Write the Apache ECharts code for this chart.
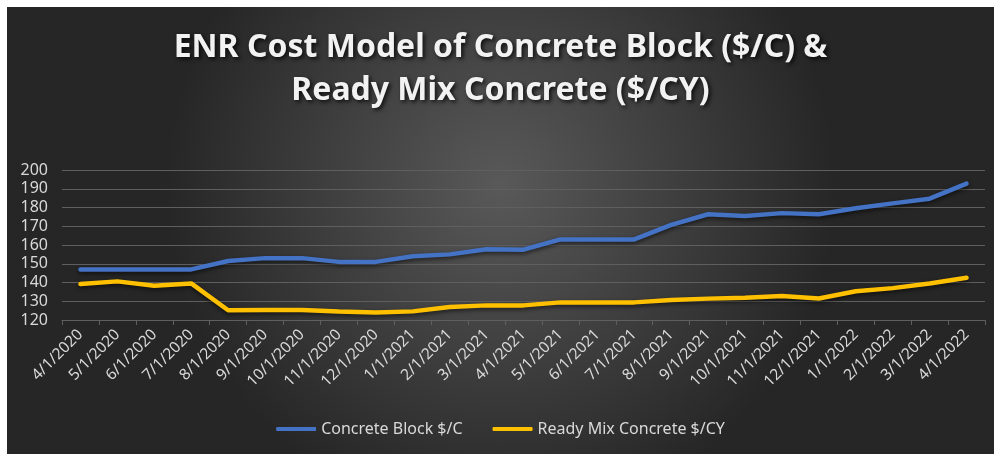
<!DOCTYPE html>
<html>
<head>
	<meta charset="utf-8">
	<title>ENR Cost Model</title>
	<script type="text/javascript" src="https://cdn.jsdelivr.net/npm/echarts@6/dist/echarts.min.js"></script>
	<style>
		body { margin: 0; background: #fff; }
		#main { position: absolute; left: 7px; top: 7px; width: 987px; height: 447px; }
	</style>
</head>
<body>
	<div id="main"></div>
	<script type="text/javascript">
	// 月份
	const months = ['4/1/2020','5/1/2020','6/1/2020','7/1/2020','8/1/2020','9/1/2020','10/1/2020',
		'11/1/2020','12/1/2020','1/1/2021','2/1/2021','3/1/2021','4/1/2021','5/1/2021','6/1/2021',
		'7/1/2021','8/1/2021','9/1/2021','10/1/2021','11/1/2021','12/1/2021','1/1/2022','2/1/2022',
		'3/1/2022','4/1/2022'];
	// Concrete Block $/C
	const blockValues = [147, 147, 147, 147, 151.5, 153, 153, 151, 151, 154, 155, 157.7, 157.5,
		163, 163, 163, 170.7, 176.4, 175.5, 177, 176.4, 179.6, 182.2, 184.7, 192.7];
	// Ready Mix Concrete $/CY
	const readyMixValues = [139.2, 140.6, 138.3, 139.5, 125.2, 125.3, 125.3, 124.5, 124, 124.6, 126.9,
		127.8, 127.8, 129.4, 129.4, 129.4, 130.7, 131.4, 131.9, 132.8, 131.5, 135.3, 137, 139.5, 142.5];

	const chart = echarts.init(document.getElementById('main'));
	const textColor = '#d9d9d9';
	const font = 'Noto Sans';

	const option = {
		backgroundColor: {
			type: 'radial', x: 0.5, y: 0.4, r: 0.75,
			colorStops: [
				{offset: 0, color: '#595959'},
				{offset: 1, color: '#262626'}
			]
		},
		title: {
			text: 'ENR Cost Model of Concrete Block ($/C) &\nReady Mix Concrete ($/CY)',
			left: 'center',
			top: 14,
			textStyle: {
				color: '#f2f2f2',
				fontFamily: font,
				fontWeight: 'bold',
				fontSize: 32,
				lineHeight: 43,
				textShadowColor: 'rgba(0,0,0,0.8)',
				textShadowBlur: 4,
				textShadowOffsetX: 2,
				textShadowOffsetY: 2
			}
		},
		legend: {
			bottom: 12,
			left: 'center',
			itemWidth: 40,
			itemHeight: 4,
			itemGap: 30,
			icon: 'roundRect',
			textStyle: { color: textColor, fontFamily: font, fontSize: 16 },
			data: ['Concrete Block $/C', 'Ready Mix Concrete $/CY']
		},
		grid: { left: 55, right: 9, top: 163, bottom: 134 },
		xAxis: {
			type: 'category',
			data: months,
			axisLine: { lineStyle: { color: '#5f5f5f' } },
			axisTick: { show: true, lineStyle: { color: '#5f5f5f' } },
			axisLabel: { color: textColor, fontFamily: font, fontSize: 15.5, rotate: 45, interval: 0, margin: 12 }
		},
		yAxis: {
			type: 'value',
			min: 120,
			max: 200,
			interval: 10,
			axisLine: { show: false },
			axisTick: { show: false },
			axisLabel: { color: textColor, fontFamily: font, fontSize: 16, margin: 14 },
			splitLine: { lineStyle: { color: '#5f5f5f', width: 1 } }
		},
		series: [
			{
				name: 'Concrete Block $/C',
				type: 'line',
				data: blockValues,
				symbol: 'none',
				lineStyle: { color: '#4472c4', width: 4.5, cap: 'round', shadowColor: 'rgba(0,0,0,0.6)', shadowBlur: 4, shadowOffsetY: 2 },
				itemStyle: { color: '#4472c4' }
			},
			{
				name: 'Ready Mix Concrete $/CY',
				type: 'line',
				data: readyMixValues,
				symbol: 'none',
				lineStyle: { color: '#ffc000', width: 4.5, cap: 'round', shadowColor: 'rgba(0,0,0,0.6)', shadowBlur: 4, shadowOffsetY: 2 },
				itemStyle: { color: '#ffc000' }
			}
		]
	};

	chart.setOption(option);
	</script>
</body>
</html>
